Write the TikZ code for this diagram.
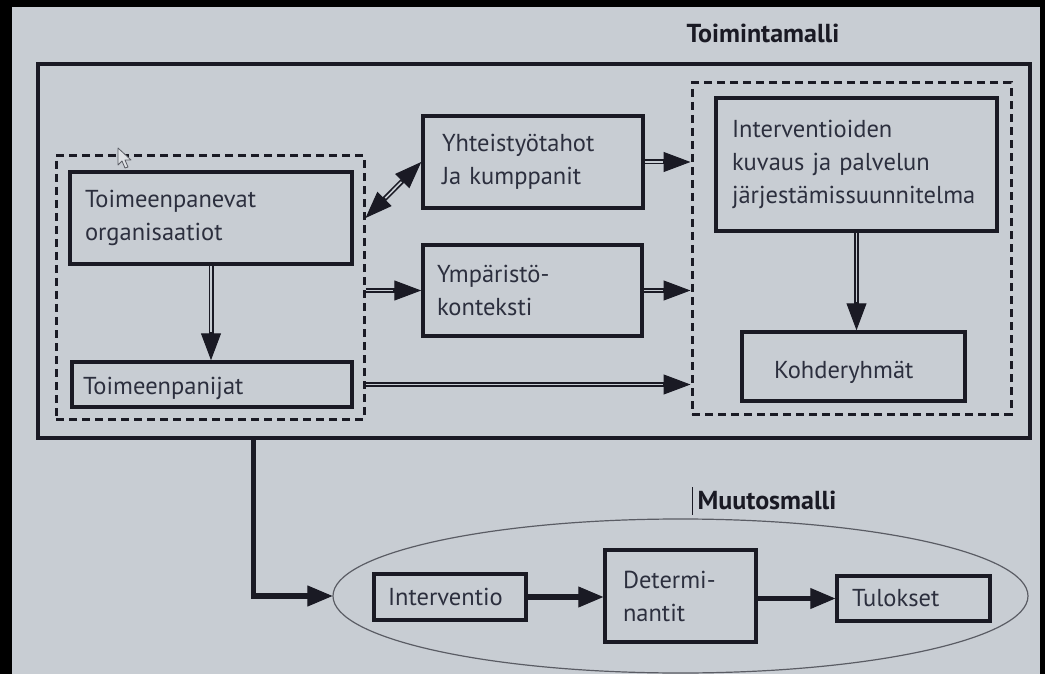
\documentclass[tikz,border=0pt]{standalone}
\usepackage{fontspec}
\setmainfont{PT Sans}
\usetikzlibrary{arrows.meta,shapes.geometric,calc}
\definecolor{paper}{RGB}{200,205,211}
\definecolor{ink}{RGB}{26,26,36}
\definecolor{txt}{RGB}{44,47,62}
\definecolor{rim}{RGB}{90,92,100}

\tikzset{
  box/.style={draw=ink, line width=3.5pt, rectangle, inner ysep=0pt,
    align=left, text=txt, font=\fontsize{24.5}{33}\selectfont},
  group/.style={draw=ink, line width=3pt, dash pattern=on 8pt off 5pt,
    rectangle, inner sep=0pt},
  frame/.style={draw=ink, line width=3.3pt, rectangle, inner sep=0pt},
  dblarrow/.style={draw=ink, line width=5pt,
    -{Triangle[length=27pt,width=20pt,line width=1pt]},
    postaction={draw=paper, line width=1.6pt, -, shorten >=28pt}},
  dblboth/.style={draw=ink, line width=5pt,
    {Triangle[length=27pt,width=20pt,line width=1pt]}-{Triangle[length=27pt,width=20pt,line width=1pt]},
    postaction={draw=paper, line width=1.6pt, -, shorten >=28pt, shorten <=28pt}},
  fat/.style={draw=ink, line width=5.5pt,
    -{Triangle[length=25pt,width=21pt,line width=1pt]}},
  heading/.style={text=ink, font=\bfseries\fontsize{26}{28}\selectfont}
}

\begin{document}
\begin{tikzpicture}[x=1pt,y=-1pt]
  % background sheet and dark screen edges
  \fill[paper] (0,0) rectangle (1045,674);
  \useasboundingbox (0,0) rectangle (1045,674);
  \fill[black] (0,0) rectangle (1045,7);
  \fill[black] (0,0) rectangle (12,674);
  \fill[black] (1040,0) rectangle (1045,674);

  % operating model frame and its groups
  \node[heading] (title) at (763,33) {Toimintamalli};
  \node[frame, minimum width=992pt, minimum height=374pt] (toim) at (534,251) {};
  \node[group, minimum width=308pt, minimum height=263pt] (lgrp) at (210,287.5) {};
  \node[group, minimum width=319pt, minimum height=331pt] (rgrp) at (851.5,248.5) {};

  % boxes of the operating model
  \node[box, text width=252pt, inner xsep=15pt, minimum height=92pt] (org) at (211,218)
    {Toimeenpanevat\\organisaatiot};
  \node[box, text width=258pt, inner xsep=11pt, minimum height=45pt,
    text height=24pt, text depth=5pt] (panijat) at (212,384.5)
    {Toimeenpanijat};
  \node[box, text width=182pt, inner xsep=19pt, minimum height=92pt] (yht) at (533,162)
    {Yhteistyötahot\\Ja kumppanit};
  \node[box, text width=191pt, inner xsep=14pt, minimum height=91pt] (ymp) at (532.5,290.5)
    {Ympäristö-\\konteksti};
  \node[box, text width=249pt, inner xsep=16pt, minimum height=133pt] (interv) at (856.5,164.5)
    {Interventioiden\\kuvaus ja palvelun\\järjestämissuunnitelma};
  \node[box, text width=159pt, inner xsep=32pt, minimum height=69pt,
    text height=28pt, text depth=5pt] (kohde) at (853.5,366.5)
    {Kohderyhmät};

  % change model
  \node[heading, anchor=west] (muutosnimi) at (694,500) {Muutosmalli};
  \node[ellipse, draw=rim, line width=1.2pt, minimum width=695pt, minimum height=154pt,
    inner sep=0pt] (muutos) at (680.5,596) {};
  \node[box, text width=124pt, inner xsep=14pt, minimum height=46pt] (iv) at (450,597)
    {Interventio};
  \node[box, text width=115pt, inner xsep=18pt, minimum height=92pt] (det) at (680.5,596)
    {Determi-\\nantit};
  \node[box, text width=123pt, inner xsep=15pt, minimum height=45pt] (tul) at (913.5,598.5)
    {Tulokset};

  % connectors inside the operating model
  \draw[dblarrow] (org.south) -- (org.south |- panijat.north);
  \draw[dblarrow] (interv.south) -- (interv.south |- kohde.north);
  \draw[dblboth] (lgrp.east |- org.center) -- (yht.west);
  \draw[dblarrow] (lgrp.east |- ymp.west) -- (ymp.west);
  \draw[dblarrow] (yht.east) -- (rgrp.west |- yht.east);
  \draw[dblarrow] (ymp.east) -- (rgrp.west |- ymp.east);
  \draw[dblarrow] (lgrp.east |- panijat.east) -- (rgrp.west |- panijat.east);

  % from the operating model to the change model
  \coordinate (drop) at ($(toim.south west)+(217,0)$);
  \draw[fat] (drop) |- (muutos.west);
  \draw[fat] (iv.east) -- (iv.east -| det.west);
  \draw[fat] (det.east |- tul.west) -- (tul.west);

  % screen pointers
  \draw[ink, line width=0.8pt] (692,487) -- (692,515);
  \draw[rim, fill=paper!60!white, line width=0.8pt, line join=round]
    (118,148) -- (118,165) -- (122,161) -- (125,168) -- (128,167) -- (125,160) -- (131,160) -- cycle;
\end{tikzpicture}
\end{document}
